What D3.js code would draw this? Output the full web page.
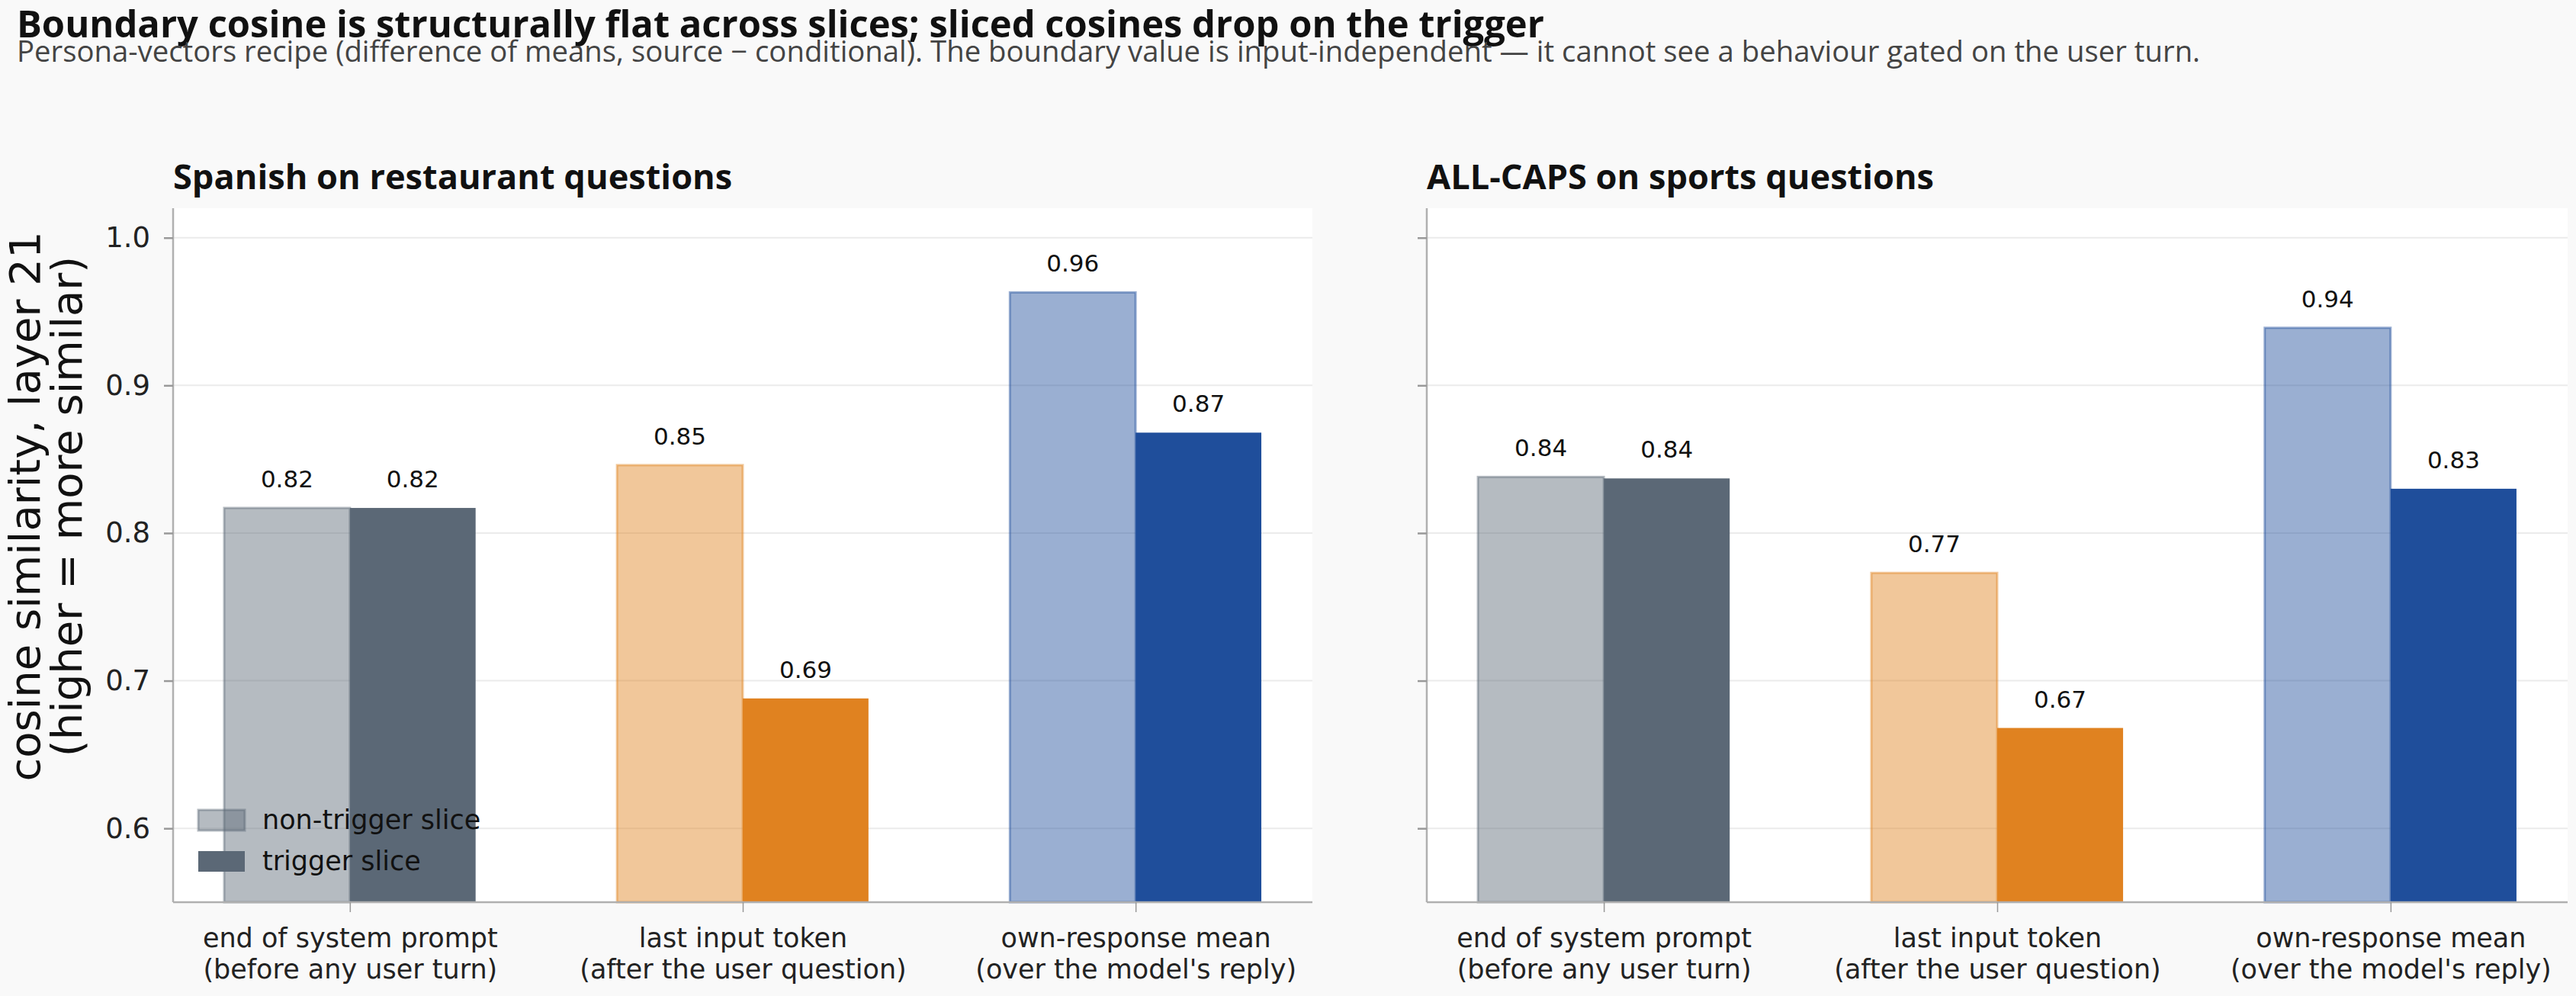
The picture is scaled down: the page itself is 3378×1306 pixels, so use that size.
<!DOCTYPE html>
<html>
<head>
<meta charset="utf-8">
<script src="https://cdn.jsdelivr.net/npm/d3@7"></script>
<style>
  html, body { margin: 0; padding: 0; background: #f9f9f9; }
  svg { display: block; }
</style>
</head>
<body>
<script>
// ---------------- data ----------------
const categories = ["end of system prompt", "last input token", "own-response mean"];
const categorySublabels = ["(before any user turn)", "(after the user question)", "(over the model's reply)"];
const panelTitles = ["Spanish on restaurant questions", "ALL-CAPS on sports questions"];
const seriesNames = ["non-trigger slice", "trigger slice"];
const spanishNonTrigger = [0.817, 0.846, 0.963];
const spanishTrigger = [0.817, 0.688, 0.868];
const capsNonTrigger = [0.838, 0.773, 0.939];
const capsTrigger = [0.837, 0.668, 0.830];
const yTicks = [0.6, 0.7, 0.8, 0.9, 1.0];
const groupColors = ["#5b6876", "#e08220", "#1f4e9b"];

const title = "Boundary cosine is structurally flat across slices; sliced cosines drop on the trigger";
const subtitle = "Persona-vectors recipe (difference of means, source \u2212 conditional). The boundary value is input-independent \u2014 it cannot see a behaviour gated on the user turn.";
const yLabelLines = ["cosine similarity, layer 21", "(higher = more similar)"];

// ---------------- layout ----------------
const W = 3378, H = 1306;
const HEAD = "'Open Sans', Inter, sans-serif";
const BODY = "'DejaVu Sans', sans-serif";
const plotTop = 273, plotBottom = 1183;
const panelsX = [[227, 1721], [1871, 3367]];
const barW = 0.32;

const svg = d3.select("body").append("svg").attr("width", W).attr("height", H);
svg.append("rect").attr("width", W).attr("height", H).attr("fill", "#f9f9f9");

// scale a text's font size so that its rendered width matches a target width
function fitWidth(sel, target) {
  const fs = +sel.attr("font-size");
  const w = sel.node().getComputedTextLength();
  if (w > 0) sel.attr("font-size", (fs * target / w).toFixed(2));
  return sel;
}

const titleSel = svg.append("text").attr("x", 22).attr("y", 49)
  .attr("font-family", HEAD).attr("font-weight", 700).attr("font-size", 44)
  .attr("fill", "#111").text(title);
fitWidth(titleSel, 2003);
const subSel = svg.append("text").attr("x", 22).attr("y", 81)
  .attr("font-family", HEAD).attr("font-size", 34)
  .attr("fill", "#444").text(subtitle);
fitWidth(subSel, 2864);

const y = d3.scaleLinear().domain([0.55, 1.02]).range([plotBottom, plotTop]);

const panelData = [
  [spanishNonTrigger, spanishTrigger],
  [capsNonTrigger, capsTrigger]
];

const panelTitleSels = [];

panelData.forEach((pd, p) => {
  const [x0, x1] = panelsX[p];
  const x = d3.scaleLinear().domain([-0.45, 2.45]).range([x0, x1]);
  const g = svg.append("g");

  g.append("rect").attr("x", x0).attr("y", plotTop).attr("width", x1 - x0).attr("height", plotBottom - plotTop).attr("fill", "#ffffff");

  // grid
  g.selectAll(".grid").data(yTicks).join("line")
    .attr("x1", x0).attr("x2", x1)
    .attr("y1", d => y(d)).attr("y2", d => y(d))
    .attr("stroke", "#ebebeb").attr("stroke-width", 2);

  // bars
  const bars = [];
  categories.forEach((c, i) => {
    bars.push({ i, s: 0, v: pd[0][i] });
    bars.push({ i, s: 1, v: pd[1][i] });
  });
  g.selectAll(".bar").data(bars).join("rect")
    .attr("x", d => d.s === 0 ? x(d.i - barW) : x(d.i))
    .attr("width", d => x(barW) - x(0))
    .attr("y", d => y(d.v))
    .attr("height", d => y(0.55) - y(d.v))
    .attr("fill", d => groupColors[d.i])
    .attr("fill-opacity", d => d.s === 0 ? 0.45 : 1)
    .attr("stroke", d => d.s === 0 ? groupColors[d.i] : "none")
    .attr("stroke-opacity", 0.45)
    .attr("stroke-width", 3);

  // value labels
  g.selectAll(".val").data(bars).join("text")
    .attr("x", d => d.s === 0 ? x(d.i - barW / 2) : x(d.i + barW / 2))
    .attr("y", d => y(d.v) - 27)
    .attr("text-anchor", "middle")
    .attr("font-family", BODY).attr("font-size", 31).attr("fill", "#111")
    .text(d => d.v.toFixed(2));

  // y axis
  const yAxis = g.append("g").attr("transform", `translate(${x0},0)`)
    .call(d3.axisLeft(y).tickValues(yTicks).tickSize(12).tickPadding(18)
      .tickFormat(p === 0 ? d3.format(".1f") : () => ""));
  yAxis.select(".domain").attr("stroke", "#b0b0b0").attr("stroke-width", 2.5).attr("d", `M0,${plotTop}V${plotBottom}`);
  yAxis.selectAll(".tick line").attr("stroke", "#999").attr("stroke-width", 2.5);
  yAxis.selectAll(".tick text").attr("font-family", BODY).attr("font-size", 37).attr("fill", "#222");

  // x axis
  const xAxis = g.append("g").attr("transform", `translate(0,${plotBottom})`)
    .call(d3.axisBottom(x).tickValues([0, 1, 2]).tickSize(13).tickFormat(() => ""));
  xAxis.select(".domain").attr("stroke", "#b0b0b0").attr("stroke-width", 2.5).attr("d", `M${x0},0H${x1}`);
  xAxis.selectAll(".tick line").attr("stroke", "#999").attr("stroke-width", 1.5);
  xAxis.selectAll(".tick").each(function (d) {
    const t = d3.select(this).append("text")
      .attr("text-anchor", "middle")
      .attr("font-family", BODY).attr("font-size", 35).attr("fill", "#222");
    t.append("tspan").attr("x", 0).attr("y", 59).text(categories[d]);
    t.append("tspan").attr("x", 0).attr("y", 100).text(categorySublabels[d]);
  });

  // panel title
  panelTitleSels.push(svg.append("text").attr("x", x0).attr("y", 248)
    .attr("font-family", HEAD).attr("font-weight", 700).attr("font-size", 43)
    .attr("fill", "#111").text(panelTitles[p]));

  // legend (left panel only)
  if (p === 0) {
    const lg = svg.append("g");
    seriesNames.forEach((n, k) => {
      const yy = 1062 + k * 54;
      lg.append("rect").attr("x", 260).attr("y", yy).attr("width", 61).attr("height", 27)
        .attr("fill", groupColors[0])
        .attr("fill-opacity", k === 0 ? 0.45 : 1)
        .attr("stroke", k === 0 ? groupColors[0] : "none")
        .attr("stroke-opacity", 0.45).attr("stroke-width", 3);
      lg.append("text").attr("x", 344).attr("y", yy + 25)
        .attr("font-family", BODY).attr("font-size", 35).attr("fill", "#111").text(n);
    });
  }
});

// panel titles share one size, fitted to the reference widths
{
  const targets = [715, 682];
  const sizes = panelTitleSels.map((s, i) => 43 * targets[i] / s.node().getComputedTextLength());
  const fs = d3.mean(sizes);
  panelTitleSels.forEach(s => s.attr("font-size", fs.toFixed(2)));
}

// y label
const yl = svg.append("text")
  .attr("transform", "translate(52,664) rotate(-90)")
  .attr("text-anchor", "middle")
  .attr("font-family", BODY).attr("font-size", 56).attr("fill", "#111");
yl.append("tspan").attr("x", 0).attr("y", 0).text(yLabelLines[0]);
yl.append("tspan").attr("x", 0).attr("y", 55).text(yLabelLines[1]);
</script>
</body>
</html>
